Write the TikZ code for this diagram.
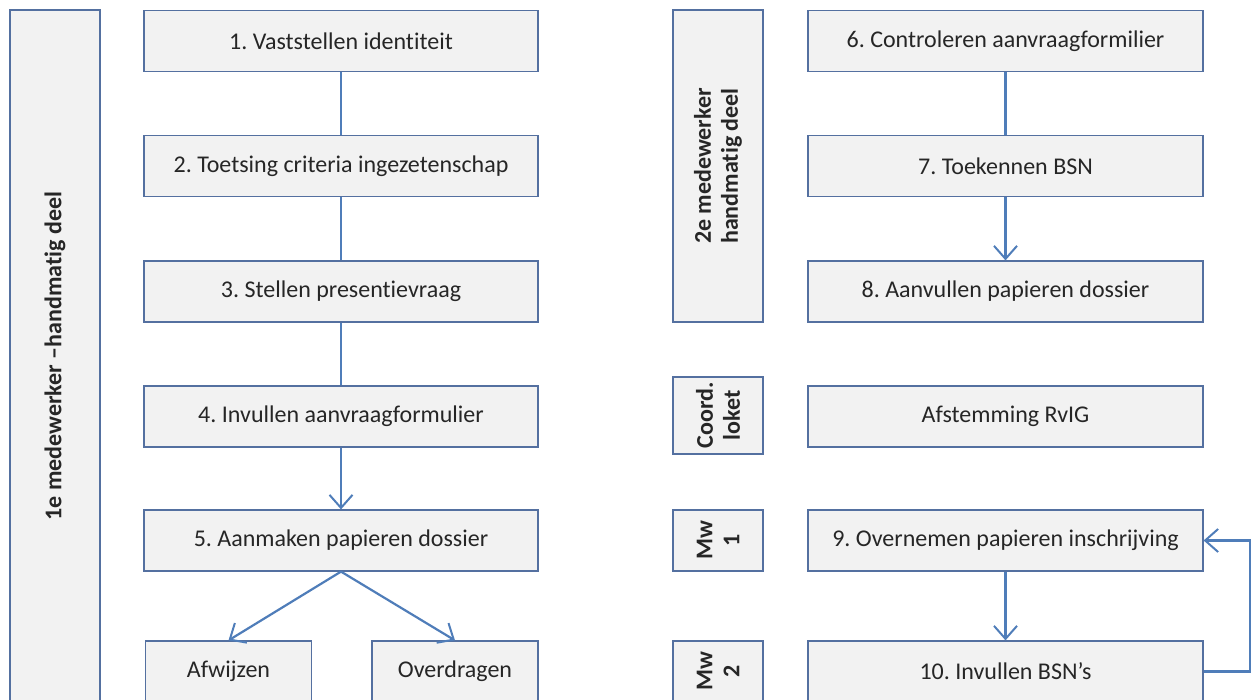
\documentclass[tikz,border=0pt]{standalone}
\usepackage{fontspec}
\setmainfont{Carlito}[Ligatures=NoCommon]
\usetikzlibrary{arrows.meta}
\definecolor{boxfill}{RGB}{242,242,242}
\definecolor{boxline}{RGB}{84,112,160}
\definecolor{conn}{RGB}{79,125,185}
\definecolor{txt}{RGB}{38,38,38}
\tikzset{
  stepbox/.style={draw=boxline, line width=1.2pt, fill=boxfill, inner sep=0pt,
    minimum height=61pt, text=txt, font=\fontsize{24}{28}\selectfont\frenchspacing},
  lanebox/.style={draw=boxline, line width=1.2pt, fill=boxfill, inner sep=0pt,
    rotate=90, align=center, text=txt, minimum height=90pt,
    font=\fontsize{24}{27}\selectfont\bfseries\frenchspacing},
  link/.style={draw=conn, line width=2.2pt},
  arr/.style={link, -{Straight Barb[length=13pt,width=23pt,line width=2pt]}}
}
\begin{document}
\begin{tikzpicture}[x=1pt,y=-1pt]
\useasboundingbox (0,0) rectangle (1254,700);
\clip (0,0) rectangle (1254,700);
% left lane
\node[lanebox, minimum width=692pt] (l1) at (55,356) {1e medewerker –handmatig deel};
\node[stepbox, minimum width=394pt] (b1) at (341,41) {1. Vaststellen identiteit};
\node[stepbox, minimum width=394pt] (b2) at (341,166) {2. Toetsing criteria ingezetenschap};
\node[stepbox, minimum width=394pt] (b3) at (341,291.5) {3. Stellen presentievraag};
\node[stepbox, minimum width=394pt] (b4) at (341,416.5) {4. Invullen aanvraagformulier};
\node[stepbox, minimum width=394pt] (b5) at (341,540.5) {5. Aanmaken papieren dossier};
\node[stepbox, minimum width=166pt] (afw) at (228.5,671.5) {Afwijzen};
\node[stepbox, minimum width=166pt] (ovd) at (455,671.5) {Overdragen};
\draw[link] (b1) -- (b2);
\draw[link] (b2) -- (b3);
\draw[link] (b3) -- (b4);
\draw[arr] (b4) -- (b5);
\draw[arr] (b5.south) -- (afw.north);
\draw[arr] (b5.south) -- (ovd.north);
% right lanes
\node[lanebox, minimum width=312pt] (l2) at (718,166) {2e medewerker\\handmatig deel};
\node[lanebox, minimum width=77pt] (lc) at (718,415.5) {Coord.\\loket};
\node[lanebox, minimum width=61pt] (lm1) at (718,540.5) {Mw\\1};
\node[lanebox, minimum width=61pt] (lm2) at (718,671.5) {Mw\\2};
\node[stepbox, minimum width=395pt] (b6) at (1005.5,41) {6. Controleren aanvraagformilier};
\node[stepbox, minimum width=395pt] (b7) at (1005.5,166) {7. Toekennen BSN};
\node[stepbox, minimum width=395pt] (b8) at (1005.5,291.5) {8. Aanvullen papieren dossier};
\node[stepbox, minimum width=395pt] (rv) at (1005.5,416.5) {Afstemming RvIG};
\node[stepbox, minimum width=395pt] (b9) at (1005.5,540.5) {9. Overnemen papieren inschrijving};
\node[stepbox, minimum width=395pt] (b10) at (1005.5,671.5) {10. Invullen BSN’s};
\draw[link] (b6) -- (b7);
\draw[arr] (b7) -- (b8);
\draw[arr] (b9) -- (b10);
\coordinate (c1) at (1250,671.5);
\coordinate (c2) at (1250,540.5);
\draw[arr] (b10.east) -- (c1) -- (c2) -- (b9.east);
\end{tikzpicture}
\end{document}
